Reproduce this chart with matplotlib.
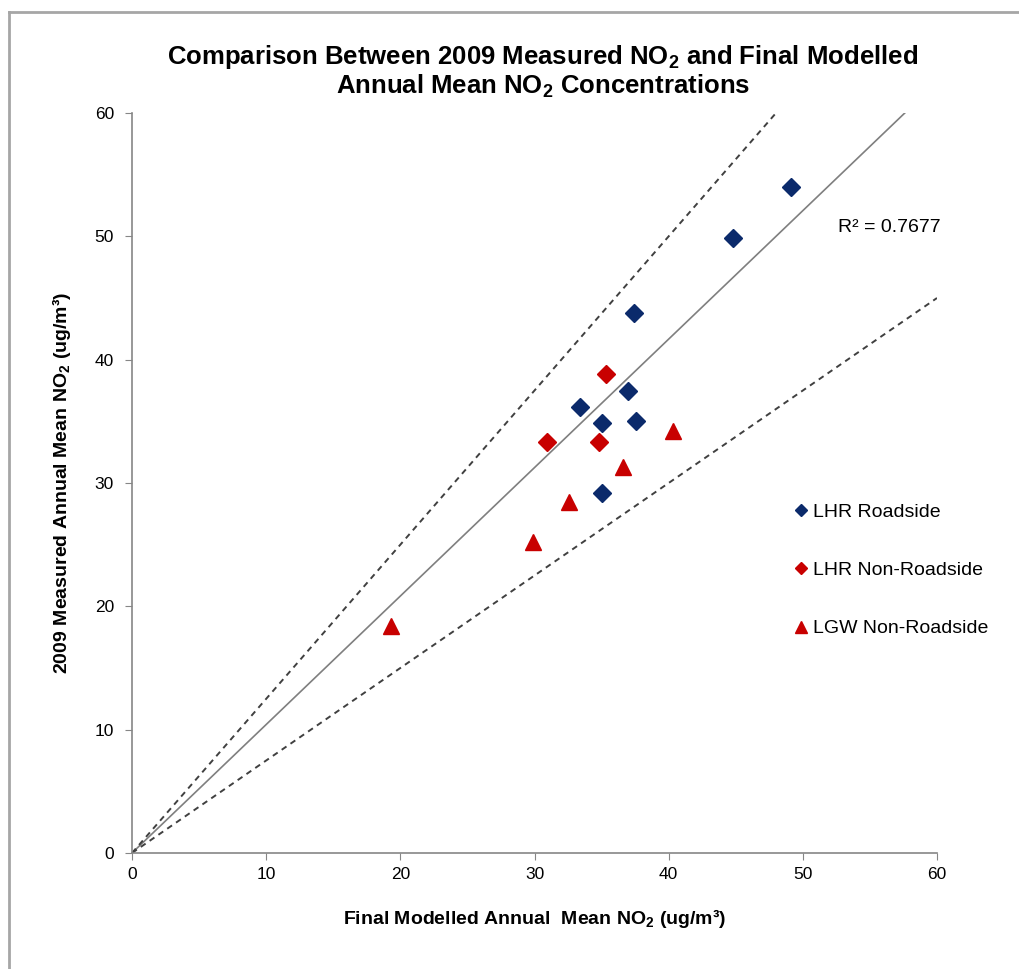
import matplotlib
matplotlib.use('Agg')
import matplotlib.pyplot as plt
from matplotlib.lines import Line2D

plt.rcParams['font.family'] = ['Liberation Sans', 'DejaVu Sans']
plt.rcParams['mathtext.fontset'] = 'custom'
plt.rcParams['mathtext.rm'] = 'Liberation Sans'
plt.rcParams['mathtext.bf'] = 'Liberation Sans:bold'

# LHR Roadside (modelled, measured)
lhr_road_x = [49.1, 44.8, 37.4, 37.0, 33.4, 35.0, 37.6, 35.0]
lhr_road_y = [54.0, 49.9, 43.8, 37.5, 36.2, 34.9, 35.0, 29.2]

# LHR Non-Roadside
lhr_non_x = [35.3, 30.9, 34.8]
lhr_non_y = [38.8, 33.3, 33.3]

# LGW Non-Roadside
lgw_non_x = [40.3, 36.6, 32.6, 29.9, 19.3]
lgw_non_y = [34.2, 31.3, 28.5, 25.2, 18.4]

# trend line and +/-25% lines
trend_x = [0, 60]
trend_y = [0, 62.5]
upper_y = [0, 75]
lower_y = [0, 45]
r2_text = 'R² = 0.7677'

ticks = [0, 10, 20, 30, 40, 50, 60]

navy = '#0b2a6b'
red = '#c80000'
grey = '#868686'

fig = plt.figure(figsize=(10.19, 9.69), dpi=100)
ax = fig.add_axes([132/1019, 1-853/969, 805/1019, 740/969])

ax.plot(trend_x, trend_y, color='#7f7f7f', lw=1.2, zorder=1)
ax.plot(trend_x, upper_y, color='#404040', lw=1.4, ls=(0, (3, 2.5)), zorder=1)
ax.plot(trend_x, lower_y, color='#404040', lw=1.4, ls=(0, (3, 2.5)), zorder=1)

ax.plot(lhr_road_x, lhr_road_y, ls='none', marker='D', ms=9, color=navy,
        mec=navy, label='LHR Roadside', zorder=3)
ax.plot(lhr_non_x, lhr_non_y, ls='none', marker='D', ms=9, color=red,
        mec=red, label='LHR Non-Roadside', zorder=3)
ax.plot(lgw_non_x, lgw_non_y, ls='none', marker='^', ms=11.5, color=red,
        mec=red, label='LGW Non-Roadside', zorder=3)

ax.set_xlim(0, 60)
ax.set_ylim(0, 60)
ax.set_xticks(ticks)
ax.set_yticks(ticks)
ax.tick_params(direction='out', length=5, color=grey, labelsize=12.5, pad=5)
ax.tick_params(axis='y', pad=8)
for s in ['top', 'right']:
    ax.spines[s].set_visible(False)
for s in ['left', 'bottom']:
    ax.spines[s].set_color(grey)
    ax.spines[s].set_linewidth(1.2)

ax.text(0.877, 0.845, r2_text, transform=ax.transAxes, fontsize=14,
        ha='left', va='center')

leg = ax.legend(loc='upper left', bbox_to_anchor=(0.822, 0.473), frameon=False,
                fontsize=14, borderpad=0, borderaxespad=0, handlelength=0.7,
                handletextpad=0.3, labelspacing=2.1, markerscale=0.7)

fig.text(543/1019, 1-64/969, r'Comparison Between 2009 Measured NO$_\mathbf{2}$ and Final Modelled',
         ha='center', va='baseline', fontsize=18.5, fontweight='bold')
fig.text(543/1019, 1-93/969, r'Annual Mean NO$_\mathbf{2}$ Concentrations',
         ha='center', va='baseline', fontsize=18.5, fontweight='bold')

fig.text(535/1019, 1-919/969, r'Final Modelled Annual  Mean NO$_\mathbf{2}$ (ug/m³)',
         ha='center', va='center', fontsize=14, fontweight='bold')
fig.text(62/1019, 1-483/969, r'2009 Measured Annual Mean NO$_\mathbf{2}$ (ug/m³)',
         ha='center', va='center', rotation=90, fontsize=14, fontweight='bold')

# chart frame
fig.add_artist(Line2D([9/1019, 9/1019], [0, 1-12/969], transform=fig.transFigure,
                      color='#a6a6a6', lw=2))
fig.add_artist(Line2D([9/1019, 1], [1-12/969, 1-12/969], transform=fig.transFigure,
                      color='#a6a6a6', lw=2))

fig.savefig('out.png', dpi=100)
